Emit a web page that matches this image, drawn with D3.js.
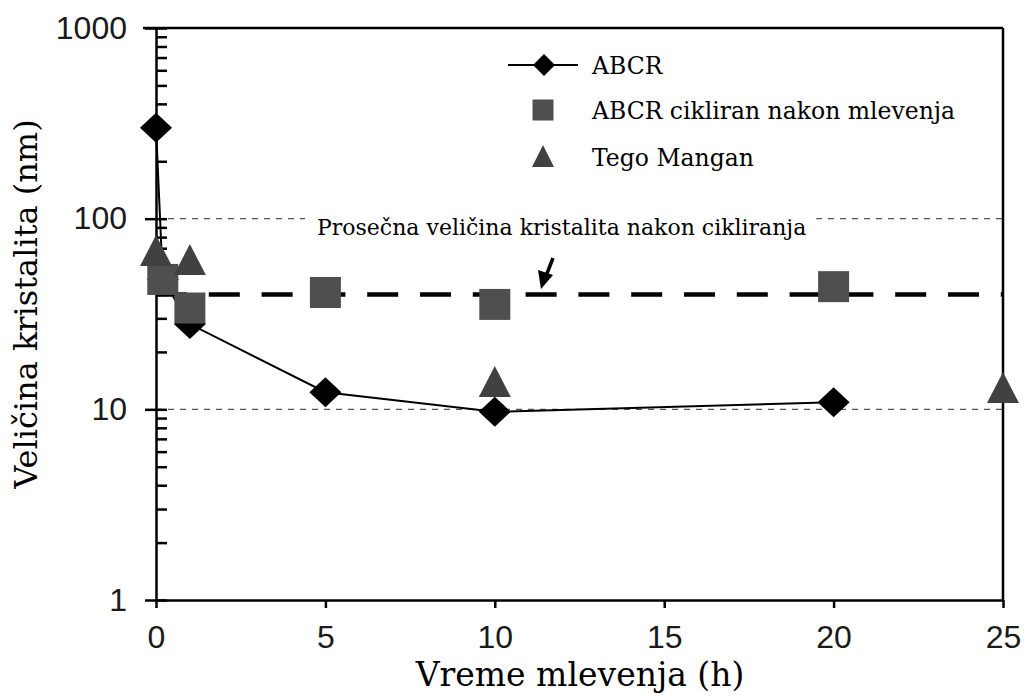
<!DOCTYPE html>
<html lang="sr">
<head>
<meta charset="utf-8">
<title>Veličina kristalita</title>
<script src="https://cdn.jsdelivr.net/npm/d3@7"></script>
<style>
  body { margin: 0; background: #fff; }
  .tick text { font-family: "Liberation Sans", Arial, sans-serif; font-size: 32px; fill: #1a1a1a; }
  .tick line, .domain { stroke: #000; stroke-width: 2.5; }
  .serif { font-family: "DejaVu Serif", serif; fill: #000; }
</style>
</head>
<body>
<script>
// ABCR (mleveni uzorak)
var abcrX = [0, 0.2, 1, 5, 10, 20];
var abcrY = [300, 48, 28, 12.3, 9.7, 10.9];
// ABCR cikliran nakon mlevenja
var cycledX = [0.2, 1, 5, 10, 20];
var cycledY = [48, 34, 41, 35.5, 44];
// Tego Mangan
var tegoX = [0, 1, 10, 25];
var tegoY = [68, 61, 14, 13];
// prosecna velicina nakon cikliranja
var avgSize = 40;
var gridValues = [10, 100];
var xTicks = [0, 5, 10, 15, 20, 25];
var yTicks = [1, 10, 100, 1000];
var legendLabels = ['ABCR', 'ABCR cikliran nakon mlevenja', 'Tego Mangan'];

var width = 1026, height = 697;
var svg = d3.select('body').append('svg')
    .attr('width', width)
    .attr('height', height);

var x = d3.scaleLinear().domain([0, 25]).range([156, 1003]);
var y = d3.scaleLog().domain([1, 1000]).range([600, 28]);

// grid
svg.selectAll('.grid')
  .data(gridValues)
  .enter().append('line')
  .attr('x1', x(0)).attr('x2', x(25))
  .attr('y1', function(d){ return y(d); })
  .attr('y2', function(d){ return y(d); })
  .style('stroke', '#555')
  .style('stroke-width', 1.2)
  .style('stroke-dasharray', '6,6');

// frame top / right
svg.append('line').attr('x1', 143).attr('x2', x(25)).attr('y1', y(1000)).attr('y2', y(1000))
  .style('stroke', '#000').style('stroke-width', 2.5);
svg.append('line').attr('x1', x(25)).attr('x2', x(25)).attr('y1', y(1000)).attr('y2', y(1))
  .style('stroke', '#000').style('stroke-width', 2.5);

// axes
svg.append('g')
  .attr('transform', 'translate(0,' + y(1) + ')')
  .call(d3.axisBottom(x).tickValues(xTicks).tickSize(8).tickSizeOuter(0).tickPadding(17));

svg.append('g')
  .attr('transform', 'translate(' + x(0) + ',0)')
  .call(d3.axisLeft(y).tickValues(yTicks).tickSize(11).tickSizeOuter(0).tickPadding(18)
    .tickFormat(d3.format('d')));

svg.append('g')
  .attr('transform', 'translate(' + x(0) + ',0)')
  .call(d3.axisLeft(y).tickValues(y.ticks()).tickSize(-11).tickSizeOuter(0).tickFormat(''))
  .select('.domain').remove();

// annotation text with white background over the grid
var note = svg.append('text')
  .attr('class', 'serif')
  .attr('x', 317).attr('y', 235)
  .style('font-size', '22px')
  .text('Prosečna veličina kristalita nakon cikliranja');
var bb = note.node().getBBox();
svg.insert('rect', function(){ return note.node(); })
  .attr('x', bb.x - 12).attr('y', bb.y)
  .attr('width', bb.width + 22).attr('height', bb.height)
  .style('fill', '#fff');

// arrow
svg.append('line')
  .attr('x1', 553).attr('y1', 258).attr('x2', 546).attr('y2', 276)
  .style('stroke', '#000').style('stroke-width', 3.5);
svg.append('path')
  .attr('d', 'M541,289 L538,270 L553,275 Z')
  .style('fill', '#000');

// average line
svg.append('line')
  .attr('x1', x(0)).attr('x2', x(25))
  .attr('y1', y(avgSize)).attr('y2', y(avgSize))
  .style('stroke', '#000')
  .style('stroke-width', 4.5)
  .style('stroke-dasharray', '31,21.8');

// ABCR line
var abcr = abcrX.map(function(d, i){ return [d, abcrY[i]]; });
svg.append('path')
  .datum(abcr)
  .attr('d', d3.line().x(function(d){ return x(d[0]); }).y(function(d){ return y(d[1]); }))
  .style('fill', 'none')
  .style('stroke', '#000')
  .style('stroke-width', 2);

function diamond(w, h){ return 'M0,' + (-h) + 'L' + w + ',0L0,' + h + 'L' + (-w) + ',0Z'; }
function square(s){ return 'M' + (-s) + ',' + (-s) + 'H' + s + 'V' + s + 'H' + (-s) + 'Z'; }
function triangle(w, h){ return 'M0,' + (-h) + 'L' + w + ',' + h + 'L' + (-w) + ',' + h + 'Z'; }

svg.selectAll('.abcr')
  .data(abcr)
  .enter().append('path')
  .attr('transform', function(d){ return 'translate(' + x(d[0]) + ',' + y(d[1]) + ')'; })
  .attr('d', diamond(16, 15))
  .style('fill', '#000');

svg.selectAll('.cyc')
  .data(cycledX.map(function(d, i){ return [d, cycledY[i]]; }))
  .enter().append('path')
  .attr('transform', function(d){ return 'translate(' + x(d[0]) + ',' + y(d[1]) + ')'; })
  .attr('d', square(15.5))
  .style('fill', '#4f4f4f');

svg.selectAll('.tego')
  .data(tegoX.map(function(d, i){ return [d, tegoY[i]]; }))
  .enter().append('path')
  .attr('transform', function(d){ return 'translate(' + x(d[0]) + ',' + y(d[1]) + ')'; })
  .attr('d', triangle(16, 15.5))
  .style('fill', '#414141');

// legend
var legend = svg.append('g');
legend.append('line').attr('x1', 508).attr('x2', 578).attr('y1', 65).attr('y2', 65)
  .style('stroke', '#000').style('stroke-width', 2);
legend.append('path').attr('transform', 'translate(544,65)').attr('d', diamond(11, 11)).style('fill', '#000');
legend.append('path').attr('transform', 'translate(543,110)').attr('d', square(10.5)).style('fill', '#4f4f4f');
legend.append('path').attr('transform', 'translate(543,156)').attr('d', triangle(11, 11)).style('fill', '#414141');
legend.selectAll('text')
  .data(legendLabels)
  .enter().append('text')
  .attr('class', 'serif')
  .attr('x', 592)
  .attr('y', function(d, i){ return [74, 119, 166][i]; })
  .style('font-size', '23.5px')
  .text(function(d){ return d; });

// axis titles
svg.append('text')
  .attr('class', 'serif')
  .attr('x', 580).attr('y', 686)
  .attr('text-anchor', 'middle')
  .style('font-size', '33px')
  .text('Vreme mlevenja (h)');

svg.append('text')
  .attr('class', 'serif')
  .attr('transform', 'translate(37,304) rotate(-90)')
  .attr('text-anchor', 'middle')
  .style('font-size', '32px')
  .text('Veličina kristalita (nm)');
</script>
</body>
</html>
